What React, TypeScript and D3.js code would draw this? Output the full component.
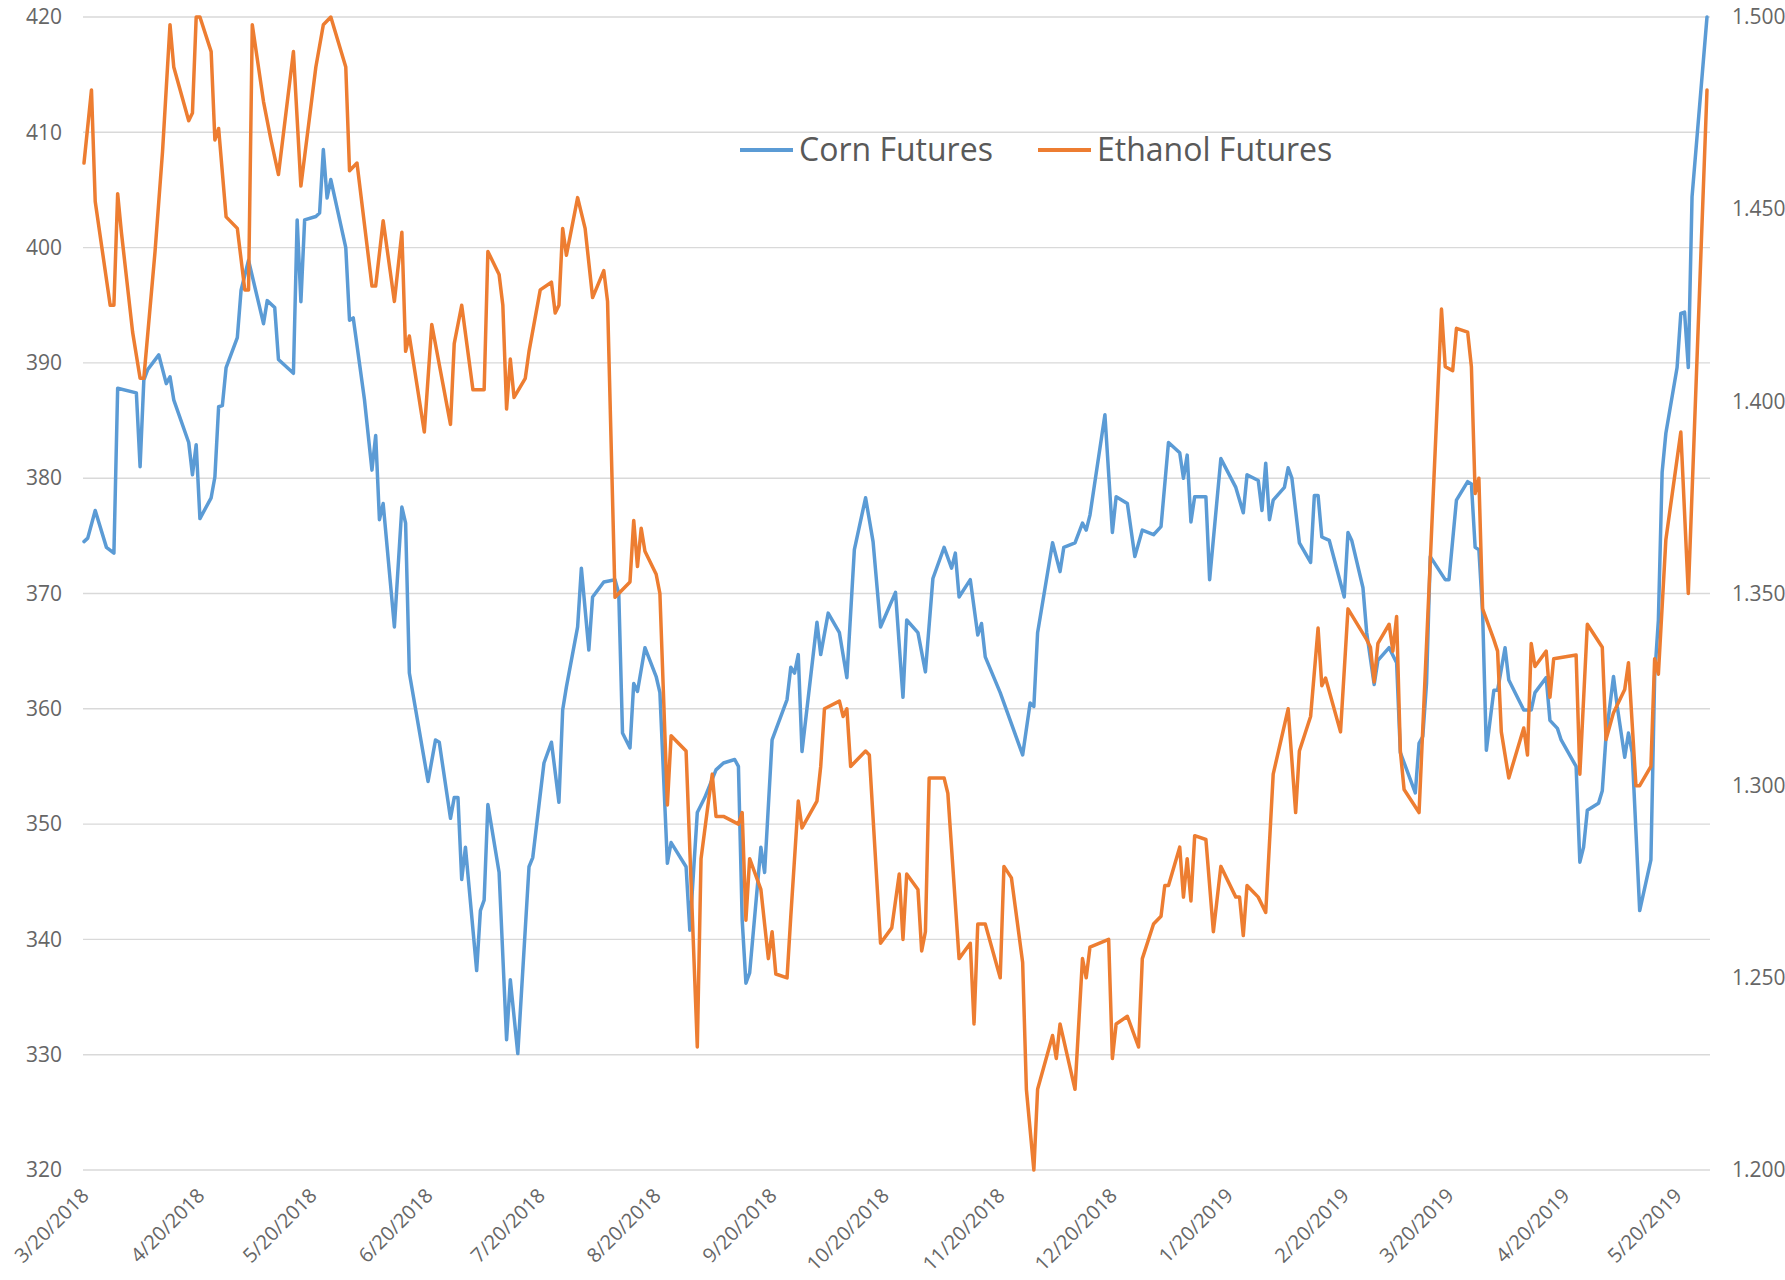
import { useEffect, useRef } from "react";
import * as d3 from "d3";

// Corn futures (cents/bu), left axis
const cornFutures: [string, number][] = [
  ["2018-03-20", 374.5], ["2018-03-21", 374.8], ["2018-03-23", 377.2], ["2018-03-26", 374.0], ["2018-03-28", 373.5], ["2018-03-29", 387.8],
  ["2018-04-03", 387.4], ["2018-04-04", 381.0], ["2018-04-05", 388.5], ["2018-04-06", 389.4], ["2018-04-09", 390.7], ["2018-04-11", 388.2], ["2018-04-12", 388.8], ["2018-04-13", 386.8], ["2018-04-17", 383.1], ["2018-04-18", 380.3], ["2018-04-19", 382.9], ["2018-04-20", 376.5], ["2018-04-23", 378.3], ["2018-04-24", 380.1], ["2018-04-25", 386.2], ["2018-04-26", 386.3], ["2018-04-27", 389.6], ["2018-04-30", 392.2],
  ["2018-05-01", 396.3], ["2018-05-03", 398.9], ["2018-05-07", 393.4], ["2018-05-08", 395.4], ["2018-05-10", 394.8], ["2018-05-11", 390.3], ["2018-05-15", 389.1], ["2018-05-16", 402.4], ["2018-05-17", 395.3], ["2018-05-18", 402.4], ["2018-05-21", 402.7], ["2018-05-22", 403.0], ["2018-05-23", 408.5], ["2018-05-24", 404.3], ["2018-05-25", 405.9], ["2018-05-29", 400.0], ["2018-05-30", 393.7], ["2018-05-31", 393.9],
  ["2018-06-03", 386.8], ["2018-06-05", 380.7], ["2018-06-06", 383.7], ["2018-06-07", 376.4], ["2018-06-08", 377.8], ["2018-06-11", 367.1], ["2018-06-13", 377.5], ["2018-06-14", 376.1], ["2018-06-15", 363.1], ["2018-06-20", 353.7], ["2018-06-22", 357.3], ["2018-06-23", 357.1], ["2018-06-26", 350.5], ["2018-06-27", 352.3], ["2018-06-28", 352.3], ["2018-06-29", 345.2], ["2018-06-30", 348.0],
  ["2018-07-03", 337.3], ["2018-07-04", 342.5], ["2018-07-05", 343.4], ["2018-07-06", 351.7], ["2018-07-09", 345.8], ["2018-07-11", 331.3], ["2018-07-12", 336.5], ["2018-07-14", 330.1], ["2018-07-17", 346.3], ["2018-07-18", 347.1], ["2018-07-21", 355.3], ["2018-07-23", 357.1], ["2018-07-25", 351.9], ["2018-07-26", 359.9], ["2018-07-27", 361.9], ["2018-07-30", 367.1], ["2018-07-31", 372.2],
  ["2018-08-02", 365.1], ["2018-08-03", 369.7], ["2018-08-06", 371.0], ["2018-08-09", 371.2], ["2018-08-10", 370.0], ["2018-08-11", 357.9], ["2018-08-13", 356.6], ["2018-08-14", 362.2], ["2018-08-15", 361.5], ["2018-08-17", 365.3], ["2018-08-20", 362.8], ["2018-08-21", 361.4], ["2018-08-23", 346.6], ["2018-08-24", 348.4], ["2018-08-28", 346.3], ["2018-08-29", 340.8], ["2018-08-31", 351.0],
  ["2018-09-02", 352.3], ["2018-09-05", 354.7], ["2018-09-07", 355.3], ["2018-09-10", 355.6], ["2018-09-11", 355.0], ["2018-09-12", 341.7], ["2018-09-13", 336.2], ["2018-09-14", 337.1], ["2018-09-17", 348.0], ["2018-09-18", 345.8], ["2018-09-20", 357.3], ["2018-09-24", 360.8], ["2018-09-25", 363.6], ["2018-09-26", 363.1], ["2018-09-27", 364.7], ["2018-09-28", 356.3],
  ["2018-10-02", 367.5], ["2018-10-03", 364.7], ["2018-10-05", 368.3], ["2018-10-08", 366.6], ["2018-10-10", 362.7], ["2018-10-12", 373.8], ["2018-10-15", 378.3], ["2018-10-17", 374.5], ["2018-10-19", 367.1], ["2018-10-23", 370.1], ["2018-10-25", 361.0], ["2018-10-26", 367.7], ["2018-10-29", 366.6], ["2018-10-31", 363.2],
  ["2018-11-02", 371.3], ["2018-11-05", 374.0], ["2018-11-07", 372.2], ["2018-11-08", 373.5], ["2018-11-09", 369.7], ["2018-11-12", 371.2], ["2018-11-14", 366.4], ["2018-11-15", 367.4], ["2018-11-16", 364.5], ["2018-11-20", 361.4], ["2018-11-26", 356.0], ["2018-11-28", 360.5], ["2018-11-29", 360.2], ["2018-11-30", 366.6],
  ["2018-12-04", 374.4], ["2018-12-06", 371.9], ["2018-12-07", 374.0], ["2018-12-10", 374.4], ["2018-12-12", 376.1], ["2018-12-13", 375.5], ["2018-12-14", 376.8], ["2018-12-18", 385.5], ["2018-12-20", 375.3], ["2018-12-21", 378.4], ["2018-12-24", 377.8], ["2018-12-26", 373.2], ["2018-12-28", 375.5], ["2018-12-31", 375.1],
  ["2019-01-02", 375.8], ["2019-01-04", 383.1], ["2019-01-07", 382.2], ["2019-01-08", 380.0], ["2019-01-09", 382.0], ["2019-01-10", 376.2], ["2019-01-11", 378.4], ["2019-01-14", 378.4], ["2019-01-15", 371.2], ["2019-01-18", 381.7], ["2019-01-22", 379.2], ["2019-01-24", 377.0], ["2019-01-25", 380.3], ["2019-01-28", 379.8], ["2019-01-29", 377.2], ["2019-01-30", 381.3], ["2019-01-31", 376.4],
  ["2019-02-01", 378.1], ["2019-02-04", 379.2], ["2019-02-05", 380.9], ["2019-02-06", 380.0], ["2019-02-08", 374.4], ["2019-02-11", 372.7], ["2019-02-12", 378.5], ["2019-02-13", 378.5], ["2019-02-14", 374.9], ["2019-02-16", 374.6], ["2019-02-20", 369.7], ["2019-02-21", 375.3], ["2019-02-22", 374.6], ["2019-02-25", 370.5], ["2019-02-26", 366.6], ["2019-02-28", 362.1],
  ["2019-03-01", 364.2], ["2019-03-04", 365.3], ["2019-03-06", 364.0], ["2019-03-07", 356.2], ["2019-03-11", 352.7], ["2019-03-12", 357.0], ["2019-03-13", 357.6], ["2019-03-14", 362.2], ["2019-03-15", 373.2], ["2019-03-19", 371.2], ["2019-03-20", 371.2], ["2019-03-22", 378.1], ["2019-03-25", 379.7], ["2019-03-26", 379.5], ["2019-03-27", 374.0], ["2019-03-28", 373.8], ["2019-03-29", 368.3], ["2019-03-30", 356.4],
  ["2019-04-01", 361.6], ["2019-04-02", 361.6], ["2019-04-04", 365.3], ["2019-04-05", 362.5], ["2019-04-09", 359.9], ["2019-04-11", 359.9], ["2019-04-12", 361.4], ["2019-04-15", 362.7], ["2019-04-16", 359.0], ["2019-04-18", 358.3], ["2019-04-19", 357.3], ["2019-04-23", 355.0], ["2019-04-24", 346.7], ["2019-04-25", 348.0], ["2019-04-26", 351.2], ["2019-04-29", 351.8], ["2019-04-30", 352.9],
  ["2019-05-01", 357.6], ["2019-05-03", 362.8], ["2019-05-04", 360.2], ["2019-05-06", 355.8], ["2019-05-07", 357.9], ["2019-05-08", 356.2], ["2019-05-10", 342.5], ["2019-05-13", 346.9], ["2019-05-14", 362.8], ["2019-05-15", 367.7], ["2019-05-16", 380.5], ["2019-05-17", 383.9], ["2019-05-20", 389.6], ["2019-05-21", 394.3], ["2019-05-22", 394.4], ["2019-05-23", 389.6], ["2019-05-24", 404.4], ["2019-05-28", 420.0],
];

// Ethanol futures ($/gal), right axis
const ethanolFutures: [string, number][] = [
  ["2018-03-20", 1.462], ["2018-03-22", 1.481], ["2018-03-23", 1.452], ["2018-03-27", 1.425], ["2018-03-28", 1.425], ["2018-03-29", 1.454], ["2018-03-30", 1.444],
  ["2018-04-02", 1.418], ["2018-04-04", 1.406], ["2018-04-05", 1.406], ["2018-04-08", 1.439], ["2018-04-10", 1.465], ["2018-04-12", 1.498], ["2018-04-13", 1.487], ["2018-04-17", 1.473], ["2018-04-18", 1.475], ["2018-04-19", 1.5], ["2018-04-20", 1.5], ["2018-04-23", 1.491], ["2018-04-24", 1.468], ["2018-04-25", 1.471], ["2018-04-27", 1.448], ["2018-04-30", 1.445],
  ["2018-05-02", 1.429], ["2018-05-03", 1.429], ["2018-05-04", 1.498], ["2018-05-07", 1.478], ["2018-05-09", 1.468], ["2018-05-11", 1.459], ["2018-05-15", 1.491], ["2018-05-17", 1.456], ["2018-05-21", 1.487], ["2018-05-23", 1.498], ["2018-05-25", 1.5], ["2018-05-29", 1.487], ["2018-05-30", 1.46],
  ["2018-06-01", 1.462], ["2018-06-05", 1.43], ["2018-06-06", 1.43], ["2018-06-08", 1.447], ["2018-06-11", 1.426], ["2018-06-13", 1.444], ["2018-06-14", 1.413], ["2018-06-15", 1.417], ["2018-06-19", 1.392], ["2018-06-21", 1.42], ["2018-06-26", 1.394], ["2018-06-27", 1.415], ["2018-06-29", 1.425],
  ["2018-07-02", 1.403], ["2018-07-05", 1.403], ["2018-07-06", 1.439], ["2018-07-09", 1.433], ["2018-07-10", 1.425], ["2018-07-11", 1.398], ["2018-07-12", 1.411], ["2018-07-13", 1.401], ["2018-07-16", 1.406], ["2018-07-17", 1.413], ["2018-07-20", 1.429], ["2018-07-23", 1.431], ["2018-07-24", 1.423], ["2018-07-25", 1.425], ["2018-07-26", 1.445], ["2018-07-27", 1.438], ["2018-07-30", 1.453],
  ["2018-08-01", 1.445], ["2018-08-03", 1.427], ["2018-08-06", 1.434], ["2018-08-07", 1.426], ["2018-08-09", 1.349], ["2018-08-13", 1.353], ["2018-08-14", 1.369], ["2018-08-15", 1.357], ["2018-08-16", 1.367], ["2018-08-17", 1.361], ["2018-08-20", 1.355], ["2018-08-21", 1.35], ["2018-08-23", 1.295], ["2018-08-24", 1.313], ["2018-08-28", 1.309], ["2018-08-31", 1.232],
  ["2018-09-01", 1.281], ["2018-09-03", 1.296], ["2018-09-04", 1.303], ["2018-09-05", 1.292], ["2018-09-07", 1.292], ["2018-09-11", 1.29], ["2018-09-12", 1.293], ["2018-09-13", 1.265], ["2018-09-14", 1.281], ["2018-09-17", 1.273], ["2018-09-19", 1.255], ["2018-09-20", 1.262], ["2018-09-21", 1.251], ["2018-09-24", 1.25], ["2018-09-25", 1.266], ["2018-09-27", 1.296], ["2018-09-28", 1.289],
  ["2018-10-02", 1.296], ["2018-10-03", 1.305], ["2018-10-04", 1.32], ["2018-10-08", 1.322], ["2018-10-09", 1.318], ["2018-10-10", 1.32], ["2018-10-11", 1.305], ["2018-10-15", 1.309], ["2018-10-16", 1.308], ["2018-10-19", 1.259], ["2018-10-22", 1.263], ["2018-10-24", 1.277], ["2018-10-25", 1.26], ["2018-10-26", 1.277], ["2018-10-29", 1.273], ["2018-10-30", 1.257], ["2018-10-31", 1.262],
  ["2018-11-01", 1.302], ["2018-11-05", 1.302], ["2018-11-06", 1.298], ["2018-11-09", 1.255], ["2018-11-12", 1.259], ["2018-11-13", 1.238], ["2018-11-14", 1.264], ["2018-11-16", 1.264], ["2018-11-20", 1.25], ["2018-11-21", 1.279], ["2018-11-23", 1.276], ["2018-11-26", 1.254], ["2018-11-27", 1.221], ["2018-11-29", 1.2], ["2018-11-30", 1.221],
  ["2018-12-04", 1.235], ["2018-12-05", 1.229], ["2018-12-06", 1.238], ["2018-12-10", 1.221], ["2018-12-12", 1.255], ["2018-12-13", 1.25], ["2018-12-14", 1.258], ["2018-12-19", 1.26], ["2018-12-20", 1.229], ["2018-12-21", 1.238], ["2018-12-24", 1.24], ["2018-12-27", 1.232], ["2018-12-28", 1.255], ["2018-12-31", 1.264],
  ["2019-01-02", 1.266], ["2019-01-03", 1.274], ["2019-01-04", 1.274], ["2019-01-07", 1.284], ["2019-01-08", 1.271], ["2019-01-09", 1.281], ["2019-01-10", 1.27], ["2019-01-11", 1.287], ["2019-01-14", 1.286], ["2019-01-16", 1.262], ["2019-01-18", 1.279], ["2019-01-22", 1.271], ["2019-01-23", 1.271], ["2019-01-24", 1.261], ["2019-01-25", 1.274], ["2019-01-28", 1.271], ["2019-01-30", 1.267],
  ["2019-02-01", 1.303], ["2019-02-05", 1.32], ["2019-02-07", 1.293], ["2019-02-08", 1.309], ["2019-02-11", 1.318], ["2019-02-13", 1.341], ["2019-02-14", 1.326], ["2019-02-15", 1.328], ["2019-02-19", 1.314], ["2019-02-21", 1.346], ["2019-02-26", 1.338], ["2019-02-27", 1.336], ["2019-02-28", 1.327],
  ["2019-03-01", 1.337], ["2019-03-04", 1.342], ["2019-03-05", 1.335], ["2019-03-06", 1.344], ["2019-03-07", 1.309], ["2019-03-08", 1.299], ["2019-03-12", 1.293], ["2019-03-18", 1.424], ["2019-03-19", 1.409], ["2019-03-21", 1.408], ["2019-03-22", 1.419], ["2019-03-25", 1.418], ["2019-03-26", 1.409], ["2019-03-27", 1.376], ["2019-03-28", 1.38], ["2019-03-29", 1.346],
  ["2019-04-01", 1.338], ["2019-04-02", 1.335], ["2019-04-03", 1.314], ["2019-04-05", 1.302], ["2019-04-09", 1.315], ["2019-04-10", 1.308], ["2019-04-11", 1.337], ["2019-04-12", 1.331], ["2019-04-15", 1.335], ["2019-04-16", 1.323], ["2019-04-17", 1.333], ["2019-04-23", 1.334], ["2019-04-24", 1.303], ["2019-04-26", 1.342], ["2019-04-30", 1.336],
  ["2019-05-01", 1.312], ["2019-05-03", 1.319], ["2019-05-06", 1.325], ["2019-05-07", 1.332], ["2019-05-09", 1.3], ["2019-05-10", 1.3], ["2019-05-13", 1.305], ["2019-05-14", 1.333], ["2019-05-15", 1.329], ["2019-05-17", 1.364], ["2019-05-21", 1.392], ["2019-05-23", 1.35], ["2019-05-28", 1.481],
];

const leftTicks = [320, 330, 340, 350, 360, 370, 380, 390, 400, 410, 420];
const rightTicks = [1.2, 1.25, 1.3, 1.35, 1.4, 1.45, 1.5];
const dateTicks = [
  "2018-03-20", "2018-04-20", "2018-05-20", "2018-06-20", "2018-07-20", "2018-08-20", "2018-09-20", "2018-10-20",
  "2018-11-20", "2018-12-20", "2019-01-20", "2019-02-20", "2019-03-20", "2019-04-20", "2019-05-20",
];
const seriesNames = ["Corn Futures", "Ethanol Futures"];
const seriesColors = ["#5b9bd5", "#ed7d31"];

const WIDTH = 1785;
const HEIGHT = 1280;
const FONT = "'Open Sans', 'Noto Sans', sans-serif";

const App = () => {
  const svgRef = useRef<SVGSVGElement>(null);

  useEffect(() => {
    const svg = d3.select(svgRef.current);
    svg.selectAll("*").remove();

    const plot = { left: 83, right: 1710, top: 17, bottom: 1170 };
    const parse = d3.utcParse("%Y-%m-%d");

    const x = d3
      .scaleUtc()
      .domain([parse("2018-03-20")!, parse("2019-05-28")!])
      .range([84, 1707]);
    const yLeft = d3.scaleLinear().domain([320, 420]).range([plot.bottom, plot.top]);
    const yRight = d3.scaleLinear().domain([1.2, 1.5]).range([plot.bottom, plot.top]);

    // grid lines
    svg
      .append("g")
      .selectAll("line")
      .data(leftTicks)
      .enter()
      .append("line")
      .attr("x1", plot.left)
      .attr("x2", plot.right)
      .attr("y1", (d) => yLeft(d))
      .attr("y2", (d) => yLeft(d))
      .attr("stroke", "#d9d9d9")
      .attr("stroke-width", 1.4);

    // left axis
    const gl = svg
      .append("g")
      .attr("transform", `translate(${plot.left},0)`)
      .call(d3.axisLeft(yLeft).tickValues(leftTicks).tickSize(0).tickPadding(21));
    gl.select(".domain").remove();
    gl.selectAll("text")
      .attr("font-family", FONT)
      .attr("font-size", 21)
      .attr("fill", "#666");

    // right axis
    const gr = svg
      .append("g")
      .attr("transform", `translate(${plot.right},0)`)
      .call(
        d3
          .axisRight(yRight)
          .tickValues(rightTicks)
          .tickSize(0)
          .tickPadding(22)
          .tickFormat(d3.format(".3f"))
      );
    gr.select(".domain").remove();
    gr.selectAll("text")
      .attr("font-family", FONT)
      .attr("font-size", 21)
      .attr("fill", "#666");

    // date labels, rotated (kept inside the bottom edge)
    const fmt = d3.utcFormat("%-m/%-d/%Y");
    svg
      .append("g")
      .selectAll("text")
      .data(dateTicks)
      .enter()
      .append("text")
      .attr("transform", (d) => `translate(${x(parse(d)!) + 6},1197) rotate(-45)`)
      .attr("text-anchor", "end")
      .attr("font-family", FONT)
      .attr("font-size", 20)
      .attr("fill", "#666")
      .text((d) => fmt(parse(d)!));

    // lines
    const lineLeft = d3
      .line<[string, number]>()
      .x((d) => x(parse(d[0])!))
      .y((d) => yLeft(d[1]));
    const lineRight = d3
      .line<[string, number]>()
      .x((d) => x(parse(d[0])!))
      .y((d) => yRight(d[1]));

    svg
      .append("path")
      .datum(cornFutures)
      .attr("d", lineLeft)
      .attr("fill", "none")
      .attr("stroke", seriesColors[0])
      .attr("stroke-width", 3.5)
      .attr("stroke-linejoin", "round")
      .attr("stroke-linecap", "round");

    svg
      .append("path")
      .datum(ethanolFutures)
      .attr("d", lineRight)
      .attr("fill", "none")
      .attr("stroke", seriesColors[1])
      .attr("stroke-width", 3.5)
      .attr("stroke-linejoin", "round")
      .attr("stroke-linecap", "round");

    // legend
    const legendItems = [
      { x: 740, name: seriesNames[0], color: seriesColors[0] },
      { x: 1038, name: seriesNames[1], color: seriesColors[1] },
    ];
    const lg = svg.append("g").selectAll("g").data(legendItems).enter().append("g");
    lg.append("line")
      .attr("x1", (d) => d.x)
      .attr("x2", (d) => d.x + 53)
      .attr("y1", 150)
      .attr("y2", 150)
      .attr("stroke", (d) => d.color)
      .attr("stroke-width", 4);
    lg.append("text")
      .attr("x", (d) => d.x + 59)
      .attr("y", 161)
      .attr("font-family", FONT)
      .attr("font-size", 32)
      .attr("fill", "#595959")
      .text((d) => d.name);
  }, []);

  return (
    <svg
      ref={svgRef}
      width={WIDTH}
      height={HEIGHT}
      style={{ position: "absolute", left: 0, top: 0, display: "block", background: "#fff" }}
    />
  );
};

export default App;
